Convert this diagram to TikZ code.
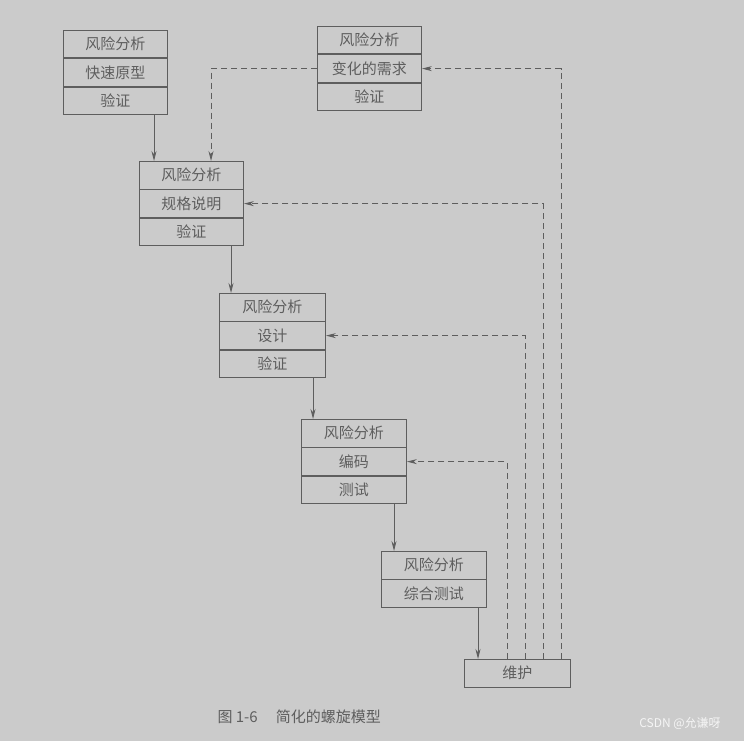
\documentclass[tikz,border=0pt]{standalone}
\usepackage{fontspec}
\newfontfamily\cjk{Noto Sans CJK SC}
\usetikzlibrary{arrows.meta}
\definecolor{bg}{HTML}{CBCBCB}
\definecolor{ink}{HTML}{5E5E5E}
\tikzset{
 cell/.style={draw=ink,line width=0.9pt,minimum width=104pt,minimum height=27.5pt,inner sep=0pt,font=\cjk\fontsize{15pt}{15pt}\selectfont,text=ink},
 solidarr/.style={draw=ink,line width=0.9pt,-{Stealth[length=10pt,width=5pt]}},
 dasharr/.style={draw=ink,line width=0.9pt,dash pattern=on 6pt off 4pt,-{Stealth[length=10pt,width=5pt]}}
}
\begin{document}
\begin{tikzpicture}[x=1pt,y=-1pt]
\fill[bg] (0,0) rectangle (744,741);
\useasboundingbox (0,0) rectangle (744,741);
% Box A
\node[cell,anchor=north west] (a1) at (63,30) {风险分析};
\node[cell,anchor=north] (a2) at (a1.south) {快速原型};
\node[cell,anchor=north] (a3) at (a2.south) {验证};
% Box B
\node[cell,anchor=north west] (b1) at (317,26) {风险分析};
\node[cell,anchor=north] (b2) at (b1.south) {变化的需求};
\node[cell,anchor=north] (b3) at (b2.south) {验证};
% Box C
\node[cell,anchor=north west] (c1) at (139,161) {风险分析};
\node[cell,anchor=north] (c2) at (c1.south) {规格说明};
\node[cell,anchor=north] (c3) at (c2.south) {验证};
% Box D
\node[cell,anchor=north west,minimum width=106pt] (d1) at (219,293) {风险分析};
\node[cell,anchor=north,minimum width=106pt] (d2) at (d1.south) {设计};
\node[cell,anchor=north,minimum width=106pt] (d3) at (d2.south) {验证};
% Box E
\node[cell,anchor=north west,minimum width=105pt] (e1) at (301,419) {风险分析};
\node[cell,anchor=north,minimum width=105pt] (e2) at (e1.south) {编码};
\node[cell,anchor=north,minimum width=105pt] (e3) at (e2.south) {测试};
% Box F
\node[cell,anchor=north west,minimum width=105pt] (f1) at (381,551) {风险分析};
\node[cell,anchor=north,minimum width=105pt] (f2) at (f1.south) {综合测试};
% Maintenance
\node[cell,anchor=north west,minimum width=106pt] (m) at (464,659) {维护};
% solid arrows
\draw[solidarr] (a3.south -| 154,0) -- (c1.north -| 154,0);
\draw[solidarr] (c3.south -| 231,0) -- (d1.north -| 231,0);
\draw[solidarr] (d3.south -| 313,0) -- (e1.north -| 313,0);
\draw[solidarr] (e3.south -| 394,0) -- (f1.north -| 394,0);
\draw[solidarr] (f2.south -| 478,0) -- (m.north -| 478,0);
% dashed feedback
\draw[dasharr] (m.north -| 507,0) |- (e2.east);
\draw[dasharr] (m.north -| 525,0) |- (d2.east);
\draw[dasharr] (m.north -| 543,0) |- (c2.east);
\draw[dasharr] (m.north -| 561,0) |- (b2.east);
\draw[dasharr] (b2.west) -| (c1.north -| 211,0);
% caption
\node[text=ink,font=\cjk\fontsize{15pt}{15pt}\selectfont,anchor=west] (cap) at (214,717) {图 1-6\hspace{18pt}简化的螺旋模型};
\node[text=white!92!gray,font=\cjk\fontsize{12pt}{12pt}\selectfont] (wm) at (680,723) {CSDN @允谦呀};
\end{tikzpicture}
\end{document}
